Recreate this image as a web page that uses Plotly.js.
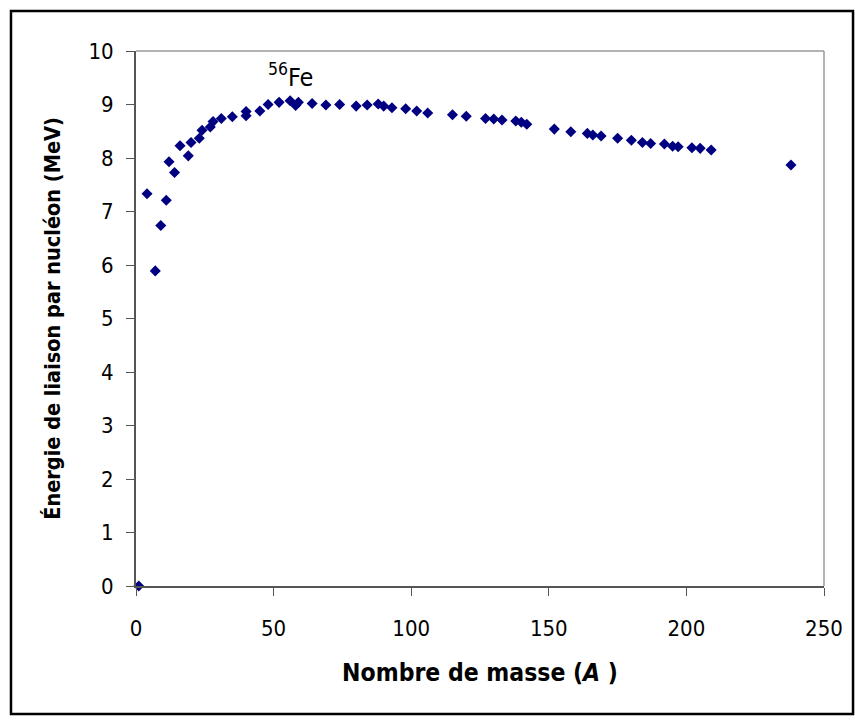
<!DOCTYPE html>
<html>
<head>
<meta charset="utf-8">
<script src="https://cdn.plot.ly/plotly-3.0.1.min.js"></script>
<style>html,body{margin:0;padding:0;background:#fff;}</style>
</head>
<body>
<div id="chart" style="width:855px;height:723px;"></div>
<script>
// Mass number A
const massNumber = [1, 4, 7, 9, 11, 12, 14, 16, 19, 20, 23, 24, 27, 28, 31, 35, 40, 40, 45, 48, 52, 56, 58, 59, 64, 69, 74, 80, 84, 88, 90, 93, 98, 102, 106, 115, 120, 127, 130, 133, 138, 140, 142, 152, 158, 164, 166, 169, 175, 180, 184, 187, 192, 195, 197, 202, 205, 209, 238];
// Binding energy per nucleon (MeV)
const bindingEnergy = [0, 7.33, 5.89, 6.74, 7.21, 7.93, 7.73, 8.23, 8.04, 8.29, 8.37, 8.52, 8.58, 8.68, 8.74, 8.77, 8.79, 8.87, 8.88, 9.00, 9.04, 9.07, 8.98, 9.04, 9.02, 8.99, 9.00, 8.97, 8.99, 9.01, 8.97, 8.94, 8.92, 8.88, 8.84, 8.81, 8.78, 8.74, 8.73, 8.71, 8.69, 8.67, 8.63, 8.54, 8.49, 8.46, 8.43, 8.41, 8.37, 8.33, 8.29, 8.27, 8.26, 8.22, 8.21, 8.19, 8.18, 8.15, 7.87];
const xTickVals = [0, 50, 100, 150, 200, 250];
const yTickVals = [0, 1, 2, 3, 4, 5, 6, 7, 8, 9, 10];
const xTitle = "Nombre de masse (<i>A</i> )";
const yTitle = "Énergie de liaison par nucléon (MeV)";
const annoText = "<sup>56</sup>Fe";
const annoX = 56, annoY = 9.2;

const font = "Tahoma, 'DejaVu Sans Condensed', 'DejaVu Sans', sans-serif";

const trace = {
  x: massNumber,
  y: bindingEnergy,
  type: 'scatter',
  mode: 'markers',
  cliponaxis: false,
  marker: {symbol: 'diamond', size: 8.5, color: '#000080', line: {width: 0}},
  hoverinfo: 'skip'
};

const layout = {
  width: 855, height: 723,
  margin: {l: 136, r: 31, t: 51, b: 137},
  paper_bgcolor: '#ffffff',
  plot_bgcolor: '#ffffff',
  showlegend: false,
  font: {family: font, color: '#000', size: 22},
  xaxis: {
    range: [0, 250], tickvals: xTickVals, ticktext: xTickVals.map(String),
    showgrid: false, zeroline: false,
    showline: true, linecolor: '#555555', linewidth: 2,
    ticks: 'outside', ticklen: 8, tickwidth: 1, tickcolor: '#555555',
    ticklabelstandoff: 14,
    tickfont: {family: font, size: 22, color: '#000'},
    title: {text: xTitle, font: {family: font, size: 24.5, color: '#000', weight: 'bold'}, standoff: 23}
  },
  yaxis: {
    range: [0, 10], tickvals: yTickVals, ticktext: yTickVals.map(String),
    showgrid: false, zeroline: false,
    showline: true, linecolor: '#555555', linewidth: 2,
    ticks: 'outside', ticklen: 8, tickwidth: 1, tickcolor: '#555555',
    ticklabelstandoff: 8,
    tickfont: {family: font, size: 22, color: '#000'},
    title: {text: yTitle, font: {family: font, size: 21.5, color: '#000', weight: 'bold'}, standoff: 22}
  },
  shapes: [
    {type: 'line', xref: 'paper', yref: 'paper', x0: 0, x1: 1, y0: 1, y1: 1, line: {color: '#9a9a9a', width: 1.5}},
    {type: 'line', xref: 'paper', yref: 'paper', x0: 1, x1: 1, y0: 0, y1: 1, line: {color: '#9a9a9a', width: 1.5}},
    {type: 'rect', xref: 'paper', yref: 'paper', x0: -0.1817, x1: 1.0422, y0: -0.2393, y1: 1.0748, line: {color: '#000', width: 2.5}, fillcolor: 'rgba(0,0,0,0)'}
  ],
  annotations: [
    {x: annoX, y: annoY, xref: 'x', yref: 'y', text: annoText, showarrow: false,
     xanchor: 'center', yanchor: 'bottom', font: {family: font, size: 25, color: '#000'}}
  ]
};

Plotly.newPlot('chart', [trace], layout, {displayModeBar: false, staticPlot: true});
</script>
</body>
</html>
